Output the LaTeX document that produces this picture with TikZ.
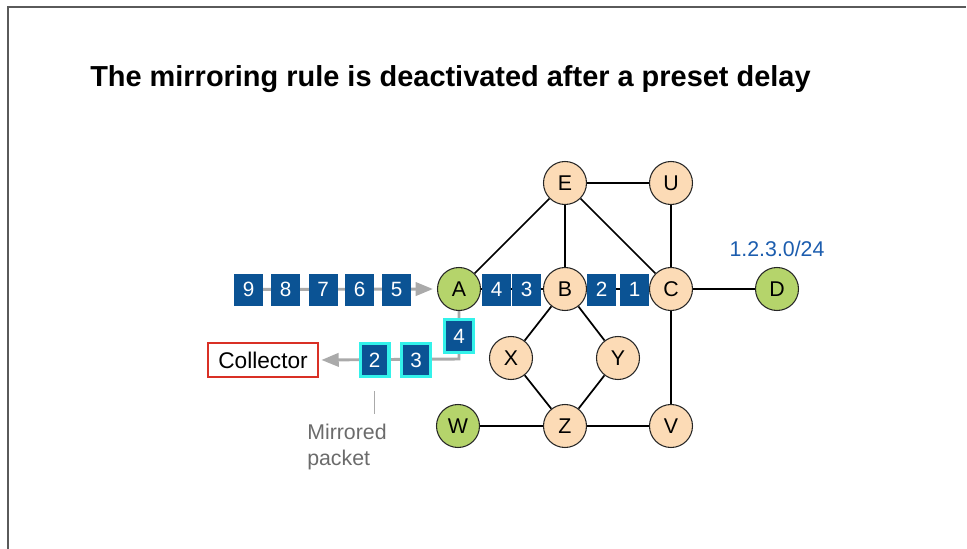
\documentclass[tikz,border=0pt]{standalone}
\usepackage{fontspec}
\setmainfont{Liberation Sans}
\usetikzlibrary{arrows.meta,backgrounds}

\definecolor{peach}{HTML}{FCDBB6}
\definecolor{leaf}{HTML}{B5D46B}
\definecolor{pktblue}{HTML}{0B5394}
\definecolor{rim}{HTML}{33F2EA}
\definecolor{wire}{HTML}{AAAAAA}
\definecolor{alert}{HTML}{D93025}
\definecolor{ipblue}{HTML}{1C5DAE}
\definecolor{note}{HTML}{6B6B6B}
\definecolor{frame}{HTML}{5A5A5A}

\tikzset{
  router/.style={circle, draw=black!85, line width=0.8pt, minimum size=32.25pt,
    inner sep=0pt, font=\fontsize{16}{19}\selectfont},
  core/.style={router, fill=peach},
  stub/.style={router, fill=leaf},
  link/.style={draw=black, line width=1.3pt},
  flow/.style={draw=wire, line width=2.2pt},
  tip/.style={-{Triangle[length=13pt,width=10pt]}},
  pkt/.style={fill=pktblue, text=white, minimum width=21.75pt, minimum height=24pt,
    inner sep=0pt, font=\fontsize{15.5}{18}\selectfont},
  mirpkt/.style={pkt, draw=rim, line width=2.6pt, minimum width=21.4pt, minimum height=24.4pt},
}

\begin{document}
\begin{tikzpicture}[x=0.75pt, y=-0.75pt]
\useasboundingbox (0,0) rectangle (967,549);

% page frame (top and left edges)
\draw[frame, line width=1.1pt] (8,549) -- (8,7) -- (966,7);

% title
\node[anchor=base west, inner sep=0pt, font=\bfseries\fontsize{21.7}{26}\selectfont]
  (title) at (90,87) {The mirroring rule is deactivated after a preset delay};

% routers
\node[core] (E) at (565,183) {E};
\node[core] (U) at (671,183) {U};
\node[stub] (A) at (459,289) {A};
\node[core] (B) at (565,289) {B};
\node[core] (C) at (671,289) {C};
\node[stub] (D) at (777,289) {D};
\node[core] (X) at (511,358) {X};
\node[core] (Y) at (618,358) {Y};
\node[stub] (W) at (458,426) {W};
\node[core] (Z) at (565,426) {Z};
\node[core] (V) at (671,426) {V};

% prefix announced by D
\node[text=ipblue, font=\fontsize{16}{19}\selectfont] (ip) at (777,249) {1.2.3.0/24};

% collector
\node[draw=alert, line width=1.1pt, minimum width=82.5pt, minimum height=25.5pt,
  inner sep=0pt, font=\fontsize{17}{20}\selectfont] (col) at (263,360) {Collector};

% incoming packet stream
\node[pkt] (p9) at (248.5,289.5) {9};
\node[pkt] (p8) at (285.5,289.5) {8};
\node[pkt] (p7) at (323,289.5) {7};
\node[pkt] (p6) at (359.5,289.5) {6};
\node[pkt] (p5) at (396.5,289.5) {5};

% packets forwarded towards C
\node[pkt] (p4) at (496.5,289.5) {4};
\node[pkt] (p3) at (526.5,289.5) {3};
\node[pkt] (p2) at (601.5,289.5) {2};
\node[pkt] (p1) at (634.5,289.5) {1};

% mirrored copies sent to the collector
\coordinate (bend) at (459,359);
\node[mirpkt] (m4) at (459,336) {4};
\node[mirpkt] (m3) at (416,360) {3};
\node[mirpkt] (m2) at (374.5,360) {2};

\begin{pgfonlayer}{background}
  % links
  \draw[link] (E) -- (U);
  \draw[link] (E) -- (A);
  \draw[link] (E) -- (B);
  \draw[link] (E) -- (C);
  \draw[link] (U) -- (C);
  \draw[link] (A) -- (B);
  \draw[link] (B) -- (C);
  \draw[link] (C) -- (D);
  \draw[link] (C) -- (V);
  \draw[link] (B) -- (X);
  \draw[link] (B) -- (Y);
  \draw[link] (X) -- (Z);
  \draw[link] (Y) -- (Z);
  \draw[link] (W) -- (Z);
  \draw[link] (Z) -- (V);
  % packet paths
  \draw[flow, tip, shorten >=3pt] (p9.center) -- (A.west);
  \draw[flow, tip, shorten >=2pt] (A.south) -- (bend) -- (col.east);
\end{pgfonlayer}

% callout
\coordinate (tickTop) at (374.5,391);
\coordinate (tickBot) at (374.5,414);
\draw[draw=wire, line width=1.2pt] (tickTop) -- (tickBot);
\node[anchor=north west, inner sep=0pt, align=left, text=note,
  font=\fontsize{16}{19.5}\selectfont] (lbl) at (307,424) {Mirrored\\packet};
\end{tikzpicture}
\end{document}
